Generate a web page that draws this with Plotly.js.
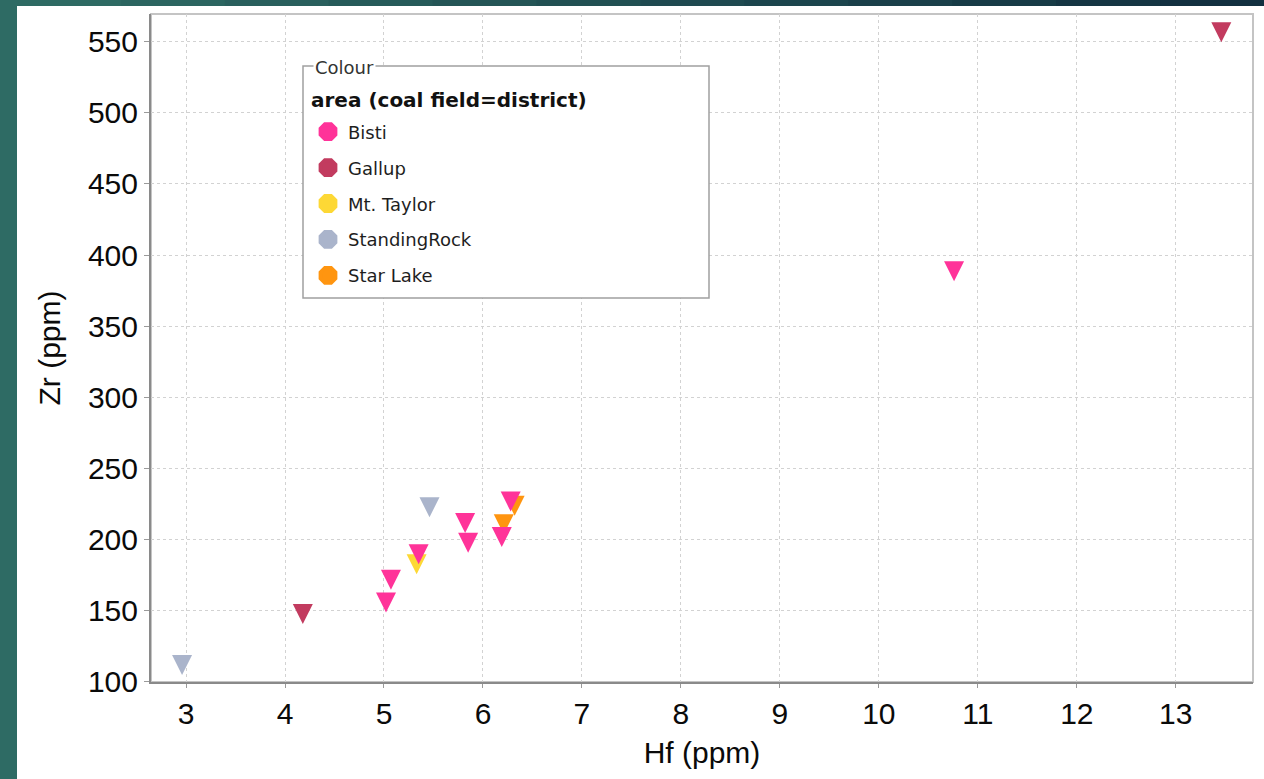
<!DOCTYPE html>
<html>
<head>
<meta charset="utf-8">
<script src="https://cdn.plot.ly/plotly-3.0.1.min.js"></script>
<style>html,body{margin:0;padding:0;background:#2e6b64;}#chart{width:1264px;height:779px;}</style>
</head>
<body>
<div id="chart"></div>
<script>
// ---- data ----
const areas = ["Bisti", "Gallup", "Mt. Taylor", "StandingRock", "Star Lake"];
const colors = ["#ff3399", "#c23b5f", "#fdd835", "#aab4cb", "#ff9510"];

const bistiHf = [5.02, 5.07, 5.35, 5.82, 5.85, 6.19, 6.28, 10.76];
const bistiZr = [158, 174, 192, 214, 200, 204, 229, 391];
const gallupHf = [4.18, 13.46];
const gallupZr = [150, 559];
const mtTaylorHf = [5.33];
const mtTaylorZr = [185];
const standingRockHf = [2.96, 5.46];
const standingRockZr = [114, 225];
const starLakeHf = [6.21, 6.32];
const starLakeZr = [213, 226];

const xTicks = [3, 4, 5, 6, 7, 8, 9, 10, 11, 12, 13];
const yTicks = [100, 150, 200, 250, 300, 350, 400, 450, 500, 550];

const seriesX = [bistiHf, gallupHf, mtTaylorHf, standingRockHf, starLakeHf];
const seriesY = [bistiZr, gallupZr, mtTaylorZr, standingRockZr, starLakeZr];

// ---- traces ----
const drawOrder = [3, 2, 4, 1, 0]; // Bisti drawn last (on top)
const traces = [];
drawOrder.forEach(i => {
  traces.push({
    type: "scatter", mode: "markers", name: areas[i],
    x: seriesX[i], y: seriesY[i], showlegend: false, cliponaxis: false,
    marker: {symbol: "arrow-down", angle: 0, standoff: 13.3, size: 20, color: colors[i], line: {width: 0}},
    hoverinfo: "x+y+name"
  });
});
areas.forEach((a, i) => {
  traces.push({
    type: "scatter", mode: "markers", name: a, x: [null], y: [null],
    legendgroup: "g" + i, showlegend: true,
    marker: {symbol: "octagon", size: 16, color: colors[i], line: {width: 4, color: colors[i]}}
  });
});

// ---- layout geometry ----
const W = 1264, H = 779, L = 151, R = 11, T = 14, B = 97;
const pw = W - L - R, ph = H - T - B;
const px = v => (v - L) / pw;
const py = v => 1 - (v - T) / ph;

const shapes = [];
// white slide panel
shapes.push({type: "rect", xref: "paper", yref: "paper", layer: "below",
  x0: px(17), x1: px(W + 5), y0: py(H + 5), y1: py(6), fillcolor: "#ffffff", line: {width: 0}});
// top dark band gradient
const bandA = [46, 106, 99], bandB = [18, 48, 64];
const nSeg = 12;
for (let k = 0; k < nSeg; k++) {
  const t = k / (nSeg - 1);
  const c = bandA.map((v, j) => Math.round(v + (bandB[j] - v) * t));
  shapes.push({type: "rect", xref: "paper", yref: "paper", layer: "below",
    x0: px(17 + k * (W - 17) / nSeg), x1: px(17 + (k + 1) * (W - 17) / nSeg + 1),
    y0: py(6), y1: py(-2), fillcolor: `rgb(${c[0]},${c[1]},${c[2]})`, line: {width: 0}});
}
// plot frame (top/right lighter)
shapes.push({type: "rect", xref: "paper", yref: "paper", layer: "below",
  x0: 0, x1: 1, y0: 0, y1: 1, line: {color: "#c4c4c4", width: 2}});
// legend box
shapes.push({type: "rect", xref: "paper", yref: "paper", layer: "above",
  x0: px(303), x1: px(709), y0: py(298), y1: py(66), fillcolor: "#ffffff", line: {color: "#a0a0a0", width: 1.5}});

const tickFont = {family: "Liberation Sans, Arial, sans-serif", size: 30, color: "#0a0a0a"};
const titleFont = {family: "Liberation Sans, Arial, sans-serif", size: 30, color: "#0a0a0a"};
const legFont = "DejaVu Sans, sans-serif";

const layout = {
  width: W, height: H,
  margin: {l: L, r: R, t: T, b: B, pad: 0},
  paper_bgcolor: "#2e6b64",
  plot_bgcolor: "#ffffff",
  showlegend: true,
  xaxis: {
    range: [2.646, 13.78], tickvals: xTicks, ticktext: xTicks.map(String),
    showgrid: true, gridcolor: "#d2d2d2", griddash: "3px,3px", gridwidth: 1,
    zeroline: false, showline: true, linecolor: "#8a8a8a", linewidth: 2,
    ticks: "outside", ticklen: 4, tickcolor: "#9a9a9a", tickwidth: 1,
    tickfont: tickFont, ticklabelstandoff: 0,
    title: {text: "Hf (ppm)", font: titleFont, standoff: 13},
    automargin: false, fixedrange: true
  },
  yaxis: {
    range: [99.8, 569.5], tickvals: yTicks, ticktext: yTicks.map(String),
    showgrid: true, gridcolor: "#d2d2d2", griddash: "3px,3px", gridwidth: 1,
    zeroline: false, showline: true, linecolor: "#8a8a8a", linewidth: 2,
    ticks: "outside", ticklen: 5, tickcolor: "#9a9a9a", tickwidth: 1,
    tickfont: tickFont, ticklabelstandoff: 0,
    title: {text: "Zr (ppm)", font: titleFont, standoff: 18},
    automargin: false, fixedrange: true
  },
  legend: {
    x: px(308), y: py(113.5), xanchor: "left", yanchor: "top",
    bgcolor: "rgba(0,0,0,0)", borderwidth: 0,
    traceorder: "grouped", tracegroupgap: 9.5,
    font: {family: legFont, size: 18, color: "#1e1e1e"}
  },
  shapes: shapes,
  annotations: [{
    xref: "paper", yref: "paper", x: px(313), y: py(67), xanchor: "left", yanchor: "middle",
    text: "Colour", showarrow: false, bgcolor: "#ffffff", borderpad: 1,
    font: {family: legFont, size: 18, color: "#333333"}
  }, {
    xref: "paper", yref: "paper", x: px(310), y: py(100), xanchor: "left", yanchor: "middle",
    text: "<b>area (coal field=district)</b>", showarrow: false, borderpad: 0,
    font: {family: legFont, size: 20, color: "#111111"}
  }]
};

Plotly.newPlot("chart", traces, layout, {displayModeBar: false});
</script>
</body>
</html>
